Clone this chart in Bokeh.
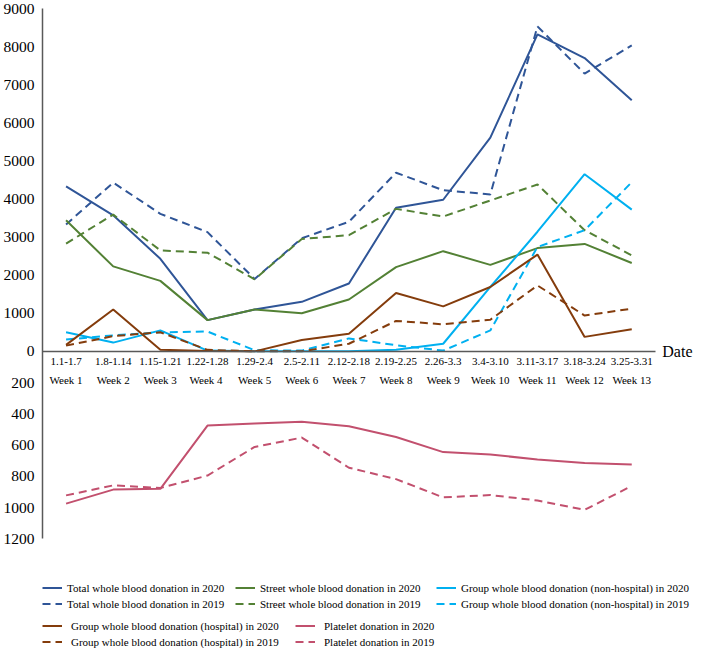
from bokeh.plotting import figure
from bokeh.models import (Range1d, FixedTicker, CustomJSTickFormatter, LinearAxis,
                          Label, Legend, LegendItem)
from bokeh.embed import file_html
from bokeh.resources import INLINE

# ---------------- data ----------------
dates = ["1.1-1.7", "1.8-1.14", "1.15-1.21", "1.22-1.28", "1.29-2.4", "2.5-2.11",
         "2.12-2.18", "2.19-2.25", "2.26-3.3", "3.4-3.10", "3.11-3.17", "3.18-3.24", "3.25-3.31"]
weeks = ["Week 1", "Week 2", "Week 3", "Week  4", "Week 5", "Week 6", "Week 7",
         "Week 8", "Week 9", "Week 10", "Week 11", "Week 12", "Week 13"]

total_2020 = [4330, 3570, 2430, 820, 1100, 1300, 1780, 3770, 3980, 5610, 8320, 7700, 6590]
total_2019 = [3330, 4430, 3610, 3130, 1900, 2970, 3400, 4690, 4230, 4120, 8530, 7290, 8030]
street_2020 = [3440, 2230, 1850, 820, 1100, 1000, 1360, 2210, 2630, 2270, 2710, 2820, 2320]
street_2019 = [2830, 3590, 2650, 2590, 1890, 2950, 3050, 3740, 3540, 3960, 4380, 3180, 2520]
group_nh_2020 = [500, 230, 550, 20, 0, 0, 0, 40, 200, 1690, 3140, 4650, 3720]
group_nh_2019 = [310, 420, 500, 520, 30, 20, 340, 160, 20, 550, 2740, 3180, 4440]
group_h_2020 = [170, 1100, 40, 10, 0, 300, 460, 1530, 1180, 1690, 2540, 380, 580]
group_h_2019 = [150, 400, 500, 40, 0, 0, 200, 800, 710, 830, 1730, 940, 1120]
platelet_2020 = [975, 885, 880, 475, 462, 450, 480, 548, 645, 660, 693, 715, 725]
platelet_2019 = [922, 858, 875, 795, 612, 552, 745, 818, 935, 920, 955, 1015, 862]

whole_ticks = [0, 1000, 2000, 3000, 4000, 5000, 6000, 7000, 8000, 9000]
platelet_ticks = [200, 400, 600, 800, 1000, 1200]

# ---------------- figure ----------------
week_idx = list(range(1, len(dates) + 1))
RATIO = 4.1            # one platelet unit drawn as RATIO whole-blood units below zero
Y_MIN, Y_MAX = -7800, 9000
X_MIN, X_MAX = 0.5, 14.31

FONT = "Liberation Serif"
C_TOTAL = "#2F5597"
C_STREET = "#538135"
C_GNH = "#00B0F0"
C_GH = "#843C0C"
C_PLT = "#C2506E"
DASH = "8 5"
AXIS_COLOR = "#595959"

p = figure(width=693, height=648,
           x_range=Range1d(X_MIN, X_MAX),
           y_range=Range1d(Y_MIN, Y_MAX),
           output_backend="svg", toolbar_location=None,
           min_border_left=36, min_border_right=0,
           min_border_top=8, min_border_bottom=0)
p.extra_y_ranges = {"plt": Range1d(start=-Y_MIN / RATIO, end=-Y_MAX / RATIO)}

p.xgrid.visible = False
p.ygrid.visible = False
p.outline_line_color = None
p.background_fill_color = "white"
p.border_fill_color = "white"

# y axis: whole blood above zero, platelet (inverted) below zero
yax = p.yaxis[0]
yax.ticker = FixedTicker(ticks=whole_ticks + [-RATIO * t for t in platelet_ticks])
yax.formatter = CustomJSTickFormatter(args=dict(r=RATIO),
                                      code="return tick >= 0 ? String(Math.round(tick)) : String(Math.round(-tick / r));")
yax.bounds = (-RATIO * max(platelet_ticks), Y_MAX)
yax.axis_line_color = AXIS_COLOR
yax.axis_line_width = 1.5
yax.major_tick_line_color = None
yax.minor_tick_line_color = None
yax.major_label_standoff = 2
yax.major_label_text_font = FONT
yax.major_label_text_font_size = "15.5px"
yax.major_label_text_color = "black"

# x axis at y = 0 : dates line
xax = p.xaxis[0]
xax.fixed_location = 0
xax.bounds = (X_MIN, len(dates) + 0.5)
xax.ticker = FixedTicker(ticks=week_idx)
xax.formatter = CustomJSTickFormatter(args=dict(labs=dates),
                                      code="const i = Math.round(tick) - 1; return (i >= 0 && i < labs.length) ? labs[i] : '';")
xax.axis_line_color = AXIS_COLOR
xax.axis_line_width = 1.5
xax.major_tick_line_color = None
xax.minor_tick_line_color = None
xax.major_label_standoff = 1
xax.major_label_text_font = FONT
xax.major_label_text_font_size = "11px"
xax.major_label_text_color = "black"

# second line of x labels: weeks
wax = LinearAxis(fixed_location=0,
                 ticker=FixedTicker(ticks=week_idx),
                 formatter=CustomJSTickFormatter(args=dict(labs=weeks),
                                                 code="const i = Math.round(tick) - 1; return (i >= 0 && i < labs.length) ? labs[i] : '';"),
                 axis_line_color=None, major_tick_line_color=None, minor_tick_line_color=None,
                 major_label_standoff=17, major_label_text_font=FONT,
                 major_label_text_font_size="11px", major_label_text_color="black")
p.add_layout(wax, "below")

p.add_layout(Label(x=len(dates) + 0.5, y=0, x_offset=7, text="Date", text_baseline="middle",
                   text_font=FONT, text_font_size="16px", text_color="black"))

# ---------------- lines ----------------
def ln(vals, color, dash=None, rng=None):
    kw = dict(line_color=color, line_width=2)
    if dash:
        kw["line_dash"] = dash
    if rng:
        kw["y_range_name"] = rng
    return p.line(x=week_idx, y=vals, **kw)

r_t20 = ln(total_2020, C_TOTAL)
r_t19 = ln(total_2019, C_TOTAL, DASH)
r_s20 = ln(street_2020, C_STREET)
r_s19 = ln(street_2019, C_STREET, DASH)
r_n20 = ln(group_nh_2020, C_GNH)
r_n19 = ln(group_nh_2019, C_GNH, DASH)
r_h20 = ln(group_h_2020, C_GH)
r_h19 = ln(group_h_2019, C_GH, DASH)
r_p20 = ln(platelet_2020, C_PLT, rng="plt")
r_p19 = ln(platelet_2019, C_PLT, DASH, rng="plt")

# ---------------- legends ----------------
def add_legend(items, loc, standoff):
    lg = Legend(items=[LegendItem(label=l, renderers=[r]) for l, r in items],
                location=loc, orientation="vertical",
                padding=0, margin=0, spacing=3,
                glyph_width=20, glyph_height=13, label_height=13,
                label_standoff=standoff,
                label_text_font=FONT, label_text_font_size="11px",
                label_text_color="black",
                border_line_color=None, background_fill_alpha=0)
    p.add_layout(lg)

add_legend([("Total whole blood donation in 2020", r_t20),
            ("Total whole blood donation in 2019", r_t19)], (0, 38), 5)
add_legend([("Street whole blood donation in 2020", r_s20),
            ("Street whole blood donation in 2019", r_s19)], (193, 38), 5)
add_legend([("Group whole blood donation (non-hospital) in 2020", r_n20),
            ("Group whole blood donation (non-hospital) in 2019", r_n19)], (394, 38), 5)
add_legend([("Group whole blood donation (hospital) in 2020", r_h20),
            ("Group whole blood donation (hospital) in 2019", r_h19)], (0, 0), 9)
add_legend([("Platelet donation in 2020", r_p20),
            ("Platelet donation in 2019", r_p19)], (253, 0), 9)

open("out.html", "w").write(file_html(p, INLINE))
